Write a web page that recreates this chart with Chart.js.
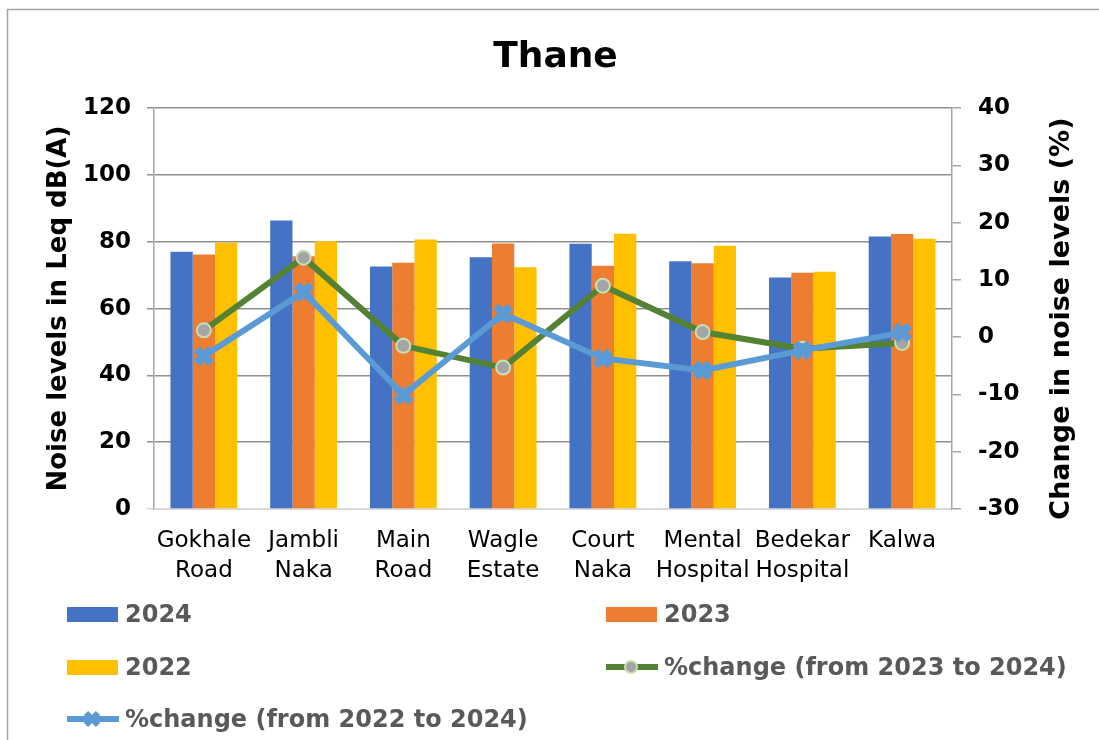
<!DOCTYPE html>
<html>
<head>
<meta charset="utf-8">
<script src="https://cdn.jsdelivr.net/npm/chart.js@4.4.1/dist/chart.umd.min.js"></script>
<style>
  html, body { margin: 0; padding: 0; background: #fff; overflow: hidden; }
  #wrap { position: relative; width: 1099px; height: 740px; overflow: hidden; }
  #chartBox { position: absolute; left: 0; top: 0; width: 1099px; height: 740px; }
  .lg { position: absolute; display: flex; align-items: center; font: bold 24px "DejaVu Sans", Verdana, sans-serif; color: #595959; white-space: nowrap; }
  .lg svg { margin-right: 6px; }
</style>
</head>
<body>
<div id="wrap">
  <div id="chartBox"><canvas id="thaneChart"></canvas></div>
  <div id="legend"></div>
</div>
<script>
const locations = [['Gokhale', 'Road'], ['Jambli', 'Naka'], ['Main', 'Road'], ['Wagle', 'Estate'],
  ['Court', 'Naka'], ['Mental', 'Hospital'], ['Bedekar', 'Hospital'], ['Kalwa']];
const noise2024 = [77.0, 86.4, 72.6, 75.4, 79.4, 74.2, 69.3, 81.6];
const noise2023 = [76.2, 75.7, 73.7, 79.5, 72.8, 73.6, 70.7, 82.3];
const noise2022 = [79.7, 80.2, 80.7, 72.4, 82.4, 78.8, 71.0, 80.9];
const change23to24 = [1.2, 13.9, -1.5, -5.3, 9.0, 0.9, -2.0, -1.0];
const change22to24 = [-3.3, 7.9, -10.1, 4.1, -3.7, -5.8, -2.3, 0.8];

const fontFam = '"DejaVu Sans", Verdana, sans-serif';
Chart.defaults.font.family = fontFam;
Chart.defaults.color = '#000';

// outer frame + right axis title (reads bottom-to-top, so drawn here)
const extras = {
  id: 'extras',
  beforeDraw(chart) {
    const c = chart.ctx;
    c.save();
    c.strokeStyle = '#a6a6a6';
    c.lineWidth = 1.5;
    c.strokeRect(7.5, 9.5, 1300, 1000);
    c.restore();
  },
  afterDraw(chart) {
    const c = chart.ctx;
    const area = chart.chartArea;
    c.save();
    c.translate(1062, (area.top + area.bottom) / 2 + 10);
    c.rotate(-Math.PI / 2);
    c.font = 'bold 27px ' + fontFam;
    c.fillStyle = '#000';
    c.textAlign = 'center';
    c.textBaseline = 'middle';
    c.fillText('Change in noise levels (%)', 0, 0);
    c.restore();
  }
};

const ctx = document.getElementById('thaneChart').getContext('2d');

const thaneChart = new Chart(ctx, {
  type: 'bar',
  data: {
    labels: locations,
    datasets: [
      { label: '2024', data: noise2024, backgroundColor: '#4472c4', yAxisID: 'y', order: 3 },
      { label: '2023', data: noise2023, backgroundColor: '#ed7d31', yAxisID: 'y', order: 3 },
      { label: '2022', data: noise2022, backgroundColor: '#ffc000', yAxisID: 'y', order: 3 },
      {
        type: 'line',
        label: '%change (from 2023 to 2024)',
        data: change23to24,
        yAxisID: 'y1',
        borderColor: '#548235',
        borderWidth: 6,
        pointStyle: 'circle',
        pointRadius: 7,
        pointBackgroundColor: '#a5a5a5',
        pointBorderColor: '#c5e0b4',
        pointBorderWidth: 2,
        order: 2
      },
      {
        type: 'line',
        label: '%change (from 2022 to 2024)',
        data: change22to24,
        yAxisID: 'y1',
        borderColor: '#5b9bd5',
        borderWidth: 6,
        pointStyle: 'crossRot',
        pointRadius: 10,
        pointBorderColor: '#5b9bd5',
        pointBorderWidth: 8,
        order: 1
      }
    ]
  },
  options: {
    responsive: true,
    maintainAspectRatio: false,
    animation: false,
    layout: { padding: { left: 20, right: 8, top: 36, bottom: 150 } },
    datasets: { bar: { categoryPercentage: 0.67, barPercentage: 1 } },
    plugins: {
      legend: { display: false },
      tooltip: { enabled: false },
      title: {
        display: true,
        text: 'Thane',
        color: '#000',
        font: { size: 36, weight: 'bold', lineHeight: 1.2 },
        padding: { top: 0, bottom: 29 }
      }
    },
    scales: {
      x: {
        afterFit(scale) { scale.height = 81; },
        grid: { display: false, drawTicks: false },
        border: { color: '#d9d9d9', width: 2 },
        ticks: {
          color: '#000',
          padding: 17,
          maxRotation: 0,
          autoSkip: false,
          font: { size: 23, lineHeight: 1.3 }
        }
      },
      y: {
        position: 'left',
        min: 0,
        max: 120,
        afterFit(scale) { scale.width = 134; },
        ticks: { stepSize: 20, padding: 16, color: '#000', font: { size: 23, weight: 'bold' } },
        grid: {
          color: (c) => c.tick && c.tick.value === 0 ? '#d9d9d9' : '#8f8f8f',
          lineWidth: 1.5,
          tickLength: 7
        },
        border: { color: '#a6a6a6', width: 1.5 },
        title: {
          display: true,
          text: 'Noise levels in Leq dB(A)',
          color: '#000',
          font: { size: 26, weight: 'bold', lineHeight: 1.2 },
          padding: { top: 24, bottom: 0 }
        }
      },
      y1: {
        position: 'right',
        min: -30,
        max: 40,
        afterFit(scale) { scale.width = 139; },
        ticks: { stepSize: 10, padding: 17, color: '#000', font: { size: 23, weight: 'bold' } },
        grid: { drawOnChartArea: false, color: '#a6a6a6', lineWidth: 1.5, tickLength: 9 },
        border: { color: '#a6a6a6', width: 1.5 }
      }
    }
  },
  plugins: [extras]
});

// legend in two columns, built from the chart's datasets
const legendPos = [[67, 614], [606, 614], [67, 667], [606, 667], [67, 719]];
const legendEl = document.getElementById('legend');
thaneChart.data.datasets.forEach((ds, i) => {
  const item = document.createElement('div');
  item.className = 'lg';
  let mark;
  if (ds.type === 'line') {
    const m = ds.pointStyle === 'circle'
      ? '<circle cx="25" cy="12" r="6" fill="' + ds.pointBackgroundColor + '" stroke="' + ds.pointBorderColor + '" stroke-width="2"/>'
      : '<path d="M19 6 L31 18 M31 6 L19 18" stroke="' + ds.borderColor + '" stroke-width="6"/>';
    mark = '<svg width="52" height="24"><line x1="1" y1="12" x2="51" y2="12" stroke="' + ds.borderColor + '" stroke-width="6" stroke-linecap="round"/>' + m + '</svg>';
  } else {
    mark = '<svg width="52" height="24"><rect x="0" y="5" width="51" height="15" fill="' + ds.backgroundColor + '"/></svg>';
  }
  item.innerHTML = mark + '<span>' + ds.label + '</span>';
  item.style.left = legendPos[i][0] + 'px';
  item.style.top = (legendPos[i][1] - 14) + 'px';
  legendEl.appendChild(item);
});
</script>
</body>
</html>
